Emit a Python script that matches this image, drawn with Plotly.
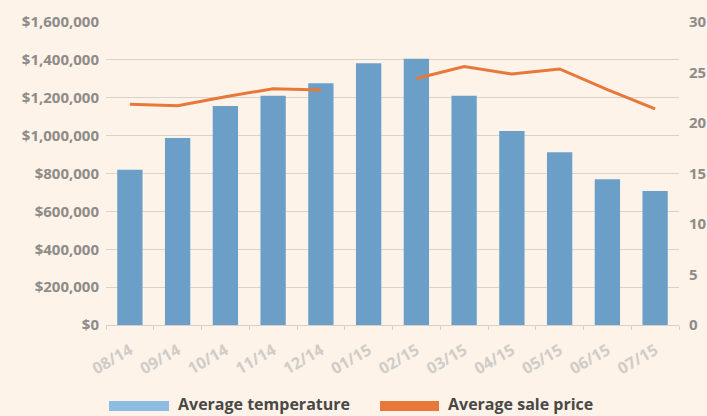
import plotly.graph_objects as go

months = ["08/14", "09/14", "10/14", "11/14", "12/14", "01/15",
          "02/15", "03/15", "04/15", "05/15", "06/15", "07/15"]
avg_temperature = [820000, 987000, 1156000, 1211000, 1276000, 1382000,
                   1406000, 1211000, 1024000, 912000, 769000, 708000]
avg_sale_price = [21.85, 21.7, 22.6, 23.4, 23.27, None,
                  24.4, 25.6, 24.85, 25.35, 23.3, 21.4]
left_ticks = [0, 200000, 400000, 600000, 800000, 1000000, 1200000, 1400000, 1600000]
left_labels = ["$0", "$200,000", "$400,000", "$600,000", "$800,000",
               "$1,000,000", "$1,200,000", "$1,400,000", "$1,600,000"]
right_ticks = [0, 5, 10, 15, 20, 25, 30]
legend_names = ["Average temperature", "Average sale price"]

BG = "#fdf3e9"
BAR = "#6b9fc8"
BAR_LEG = "#8dbbe2"
LINE = "#e8773a"
GRID = "#d9d3cc"
FONT = "Open Sans"

fig = go.Figure()
fig.add_trace(go.Bar(x=months, y=avg_temperature, name=legend_names[0],
                     marker=dict(color=BAR, line=dict(width=0)), yaxis="y"))
fig.add_trace(go.Scatter(x=months, y=avg_sale_price, name=legend_names[1],
                         mode="lines", line=dict(color=LINE, width=3),
                         connectgaps=False, yaxis="y2"))

fig.update_layout(
    width=707, height=416,
    margin=dict(l=106, r=28, t=22, b=91, autoexpand=False),
    paper_bgcolor=BG, plot_bgcolor=BG,
    showlegend=False,
    bargap=0.47,
    font=dict(family=FONT),
    xaxis=dict(type="category", tickson="boundaries", ticks="outside",
               ticklen=4, tickcolor="#d8d0c8", showline=True,
               linecolor="#d8d0c8", linewidth=1, showgrid=False,
               tickangle=-30, ticklabelstandoff=9, automargin=False,
               tickfont=dict(family=FONT, size=16, color="#d0ccc8", weight="bold")),
    yaxis=dict(range=[0, 1600000], tickvals=left_ticks, ticktext=left_labels,
               showgrid=True, gridcolor=GRID, gridwidth=1, zeroline=False,
               ticks="", ticklabelstandoff=6, automargin=False,
               tickfont=dict(family=FONT, size=15, color="#8e8b88", weight="bold")),
    yaxis2=dict(range=[0, 30], tickvals=right_ticks, overlaying="y", side="right",
                showgrid=False, zeroline=False, ticks="", ticklabelstandoff=9,
                automargin=False,
                tickfont=dict(family=FONT, size=15, color="#8e8b88", weight="bold")),
)

# legend drawn below the plot
px_w, px_h = 573.0, 303.0
def px(x):
    return (x - 106) / px_w
def py(y):
    return (325 - y) / px_h

swatches = [(109, 169, BAR_LEG, 176), (380, 439, LINE, 446)]
for (x0, x1, col, tx), name in zip(swatches, legend_names):
    fig.add_shape(type="rect", xref="paper", yref="paper",
                  x0=px(x0), x1=px(x1), y0=py(411), y1=py(401),
                  fillcolor=col, line=dict(width=0))
    fig.add_annotation(xref="paper", yref="paper", x=px(tx), y=py(404),
                       text=name, showarrow=False, xanchor="left", yanchor="middle",
                       font=dict(family=FONT, size=16, color="#4a4846", weight="bold"))

fig.write_html("out.html")
